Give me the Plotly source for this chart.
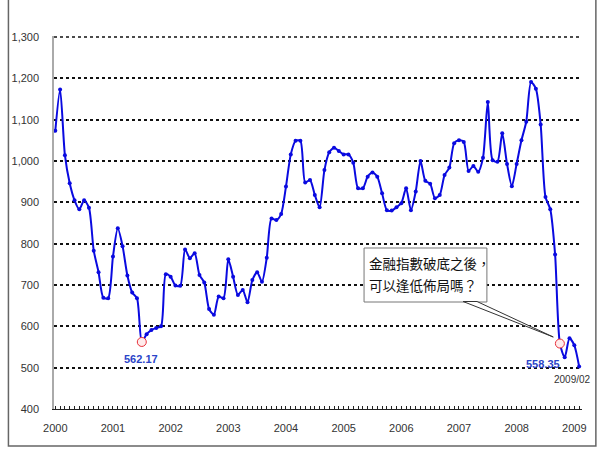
import plotly.graph_objects as go

# Monthly index values, Jan 2000 .. Feb 2009
values = [
    1073, 1173, 1014, 946, 905, 883, 905, 887, 783, 731, 669, 668,      # 2000
    769, 837, 794, 723, 682, 668, 562.17, 581, 591, 596, 600, 726,       # 2001
    720, 699, 698, 786, 765, 777, 724, 706, 642, 628, 672, 668,          # 2002
    762, 720, 676, 688, 658, 712, 731, 708, 766, 861, 857, 872,          # 2003
    938, 1016, 1049, 1049, 948, 954, 918, 888, 978, 1021, 1032, 1024,    # 2004
    1016, 1016, 996, 934, 934, 962, 972, 962, 922, 881, 880, 888,        # 2005
    898, 934, 881, 926, 1000, 952, 945, 910, 918, 966, 984, 1043,        # 2006
    1050, 1046, 976, 988, 974, 1008, 1143, 1002, 998, 1067, 993, 939,    # 2007
    993, 1050, 1095, 1191, 1175, 1088, 913, 883, 774, 558.35, 525, 571,  # 2008
    554, 503,                                                            # 2009
]
months = list(range(len(values)))
years = [str(y) for y in range(2000, 2010)]
y_ticks = [400, 500, 600, 700, 800, 900, 1000, 1100, 1200, 1300]
y_tick_text = ["400", "500", "600", "700", "800", "900", "1,000", "1,100", "1,200", "1,300"]
low_points = [18, 105]
low_labels = ["562.17", "558.35"]
last_label = "2009/02"
callout_lines = ["金融指數破底之後，", "可以逢低佈局嗎？"]

tickvals = months
ticktext = [years[m // 12] if m % 12 == 0 else "" for m in months]

BLUE = "#0a0ae0"
fig = go.Figure()
fig.add_trace(go.Scatter(
    x=months, y=values, mode="lines+markers",
    line=dict(color=BLUE, width=2, shape="spline", smoothing=0.7),
    marker=dict(color=BLUE, size=4),
    hoverinfo="skip", showlegend=False,
))
fig.add_trace(go.Scatter(
    x=[months[i] for i in low_points], y=[values[i] for i in low_points],
    mode="markers",
    marker=dict(size=9, color="rgba(255,235,235,1)", line=dict(color="#e8303a", width=1)),
    hoverinfo="skip", showlegend=False,
))

W, H = 600, 450
L, R, T, B = 49, 18, 36, 41
xr = [-0.27, 109.6]
yr = [400, 1302.4]

def px2x(px):
    return xr[0] + (px - L) / (W - L - R) * (xr[1] - xr[0])

def px2y(py):
    return yr[1] - (py - T) / (H - T - B) * (yr[1] - yr[0])

# top gridline (at the upper tick), drawn explicitly
fig.add_shape(type="line", xref="paper", yref="y", x0=0, x1=1, y0=y_ticks[-1], y1=y_ticks[-1],
              line=dict(color="#111", width=1.5, dash="dot"), layer="below")

# callout box + wedge
fig.add_shape(type="rect", x0=px2x(362), x1=px2x(486), y0=px2y(248), y1=px2y(302),
              xref="x", yref="y", fillcolor="white", line=dict(color="#777", width=1), layer="above")
fig.add_shape(type="path",
              path=f"M {px2x(462)} {px2y(301.5)} L {px2x(553)} {px2y(337)} L {px2x(476)} {px2y(301.5)} Z",
              xref="x", yref="y", fillcolor="white",
              line=dict(color="#333", width=1), layer="above")
for txt, py in zip(callout_lines, [263, 285]):
    fig.add_annotation(x=px2x(365), y=px2y(py), xref="x", yref="y", text=txt,
                       showarrow=False, xanchor="left", yanchor="middle",
                       font=dict(family="Noto Sans CJK TC", size=13.5, color="#111"))

fig.add_annotation(x=low_points[0], y=values[low_points[0]], text=f"<b>{low_labels[0]}</b>",
                   showarrow=False, yshift=-17, xshift=-1,
                   font=dict(family="Liberation Sans Narrow, Liberation Sans, Arial", size=11, color="#2a44c8"))
fig.add_annotation(x=low_points[1], y=values[low_points[1]], text=f"<b>{low_labels[1]}</b>",
                   showarrow=False, yshift=-20, xshift=-17,
                   font=dict(family="Liberation Sans Narrow, Liberation Sans, Arial", size=11, color="#2a44c8"))
fig.add_annotation(x=months[-1], y=values[-1], text=last_label,
                   showarrow=False, yshift=-13, xshift=-7,
                   font=dict(family="Liberation Sans Narrow, Liberation Sans, Arial", size=10, color="#333"))

# outer frame (left, bottom, right)
fig.add_shape(type="path", xref="paper", yref="paper",
              path=f"M {(3 - L) / (W - L - R)} {1 + T / (H - T - B)} "
                   f"L {(3 - L) / (W - L - R)} {-(446 - (H - B)) / (H - T - B)} "
                   f"L {(596 - L) / (W - L - R)} {-(446 - (H - B)) / (H - T - B)} "
                   f"L {(596 - L) / (W - L - R)} {1 + T / (H - T - B)}",
              line=dict(color="#666", width=1.5))

fig.update_layout(
    width=W, height=H, margin=dict(l=L, r=R, t=T, b=B),
    paper_bgcolor="white", plot_bgcolor="white",
    font=dict(family="Liberation Sans, Arial", size=11, color="#333"),
    xaxis=dict(range=xr, tickmode="array", tickvals=tickvals, ticktext=ticktext,
               ticks="inside", ticklen=3, tickcolor="#222", tickwidth=1,
               showgrid=False, zeroline=False, showline=True, linecolor="#222", linewidth=1,
               ticklabelstandoff=9, tickfont=dict(size=11, color="#333")),
    yaxis=dict(range=yr, tickmode="array", tickvals=y_ticks, ticktext=y_tick_text,
               showgrid=True, gridcolor="#111", gridwidth=1.5, griddash="dot",
               zeroline=False, showline=True, linecolor="#aaa", linewidth=1.5,
               ticks="", ticklabelstandoff=11, tickfont=dict(size=11, color="#333")),
)
fig.write_html("out.html")
